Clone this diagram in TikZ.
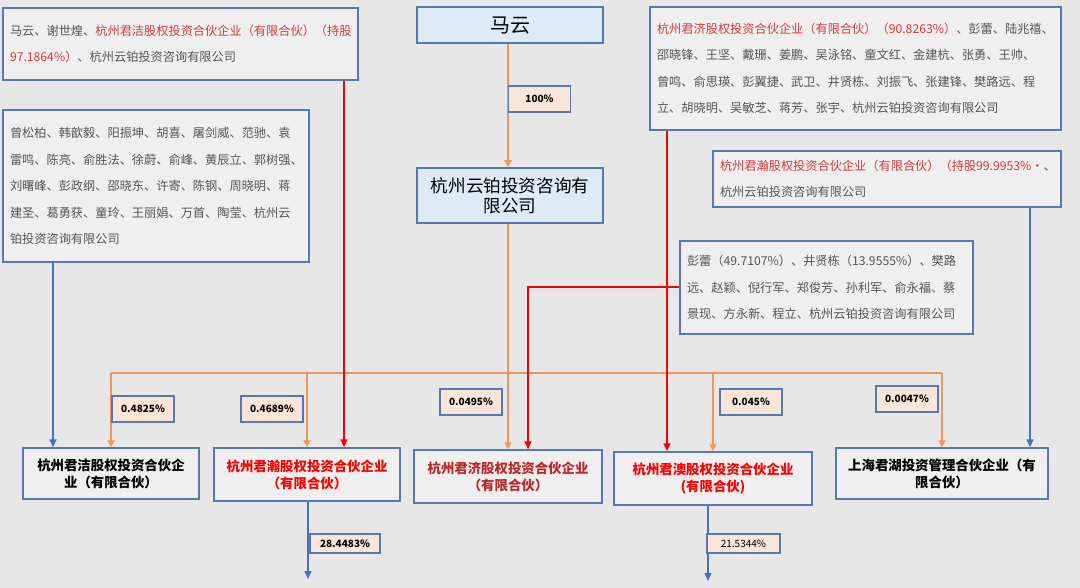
\documentclass[tikz,border=0pt]{standalone}
\usepackage{fontspec}
\setmainfont{Noto Sans CJK SC}
\usepackage{xcolor}
\usetikzlibrary{arrows.meta}

\definecolor{bgcol}{RGB}{231,231,231}
\definecolor{boxfill}{RGB}{239,239,239}
\definecolor{boxline}{RGB}{86,120,184}
\definecolor{headfill}{RGB}{222,234,246}
\definecolor{pctfill}{RGB}{251,229,214}
\definecolor{orangeln}{RGB}{242,150,88}
\definecolor{blueln}{RGB}{68,114,196}
\definecolor{redln}{RGB}{255,0,0}
\definecolor{redtxt}{RGB}{214,58,58}
\definecolor{darkred}{RGB}{190,40,40}
\definecolor{graytxt}{RGB}{85,85,85}

\tikzset{
  listbox/.style={draw=boxline, fill=boxfill, line width=1.5pt, inner sep=0pt,
    align=left, text=graytxt, font=\fontsize{12.2}{26.5}\selectfont},
  headbox/.style={draw=boxline, fill=headfill, line width=1.5pt, inner sep=0pt, align=center},
  firmbox/.style={draw=boxline, fill=boxfill, line width=1.5pt, inner sep=0pt, align=center,
    font=\fontsize{13.4}{17}\selectfont\bfseries},
  pct/.style={draw=boxline, fill=pctfill, line width=1.6pt, inner sep=0pt,
    minimum width=62pt, minimum height=26pt, font=\fontsize{10}{12}\selectfont\bfseries},
  oline/.style={draw=orangeln, line width=1.8pt},
  oarr/.style={oline, -{Triangle[length=7pt,width=7pt]}},
  barr/.style={draw=blueln, line width=1.8pt, -{Triangle[length=8pt,width=7pt]}},
  rarr/.style={draw=redln, line width=2pt, -{Triangle[length=8pt,width=7pt]}},
}

\begin{document}
\begin{tikzpicture}[x=1pt, y=-1pt]
  \fill[bgcol] (0,0) rectangle (1080,588);
  \useasboundingbox (0,0) rectangle (1080,588);

  % holder lists
  \node[listbox, minimum width=355pt, minimum height=72pt, text width=341pt]
    (listA) at (180.5,44) {马云、谢世煌、\textcolor{redtxt}{杭州君洁股权投资合伙企业（有限合伙）（持股}\\
    \textcolor{redtxt}{97.1864\%）}、杭州云铂投资咨询有限公司};
  \node[listbox, minimum width=306pt, minimum height=152pt, text width=292pt]
    (listB) at (156,186) {曾松柏、韩歆毅、阳振坤、胡喜、屠剑威、范驰、袁\\
    雷鸣、陈亮、俞胜法、徐蔚、俞峰、黄辰立、郭树强、\\
    刘曙峰、彭政纲、邵晓东、许寄、陈钢、周晓明、蒋\\
    建圣、葛勇获、童玲、王丽娟、万首、陶莹、杭州云\\
    铂投资咨询有限公司};
  \node[listbox, minimum width=411pt, minimum height=123pt, text width=397pt]
    (listC) at (855.5,68.5) {\textcolor{redtxt}{杭州君济股权投资合伙企业（有限合伙）（90.8263\%）}、彭蕾、陆兆禧、\\
    邵晓锋、王坚、戴珊、姜鹏、吴泳铭、童文红、金建杭、张勇、王帅、\\
    曾鸣、俞思瑛、彭翼捷、武卫、井贤栋、刘振飞、张建锋、樊路远、程\\
    立、胡晓明、吴敏芝、蒋芳、张宇、杭州云铂投资咨询有限公司};
  \node[listbox, minimum width=348pt, minimum height=56pt, text width=334pt]
    (listD) at (887,179) {\textcolor{redtxt}{杭州君瀚股权投资合伙企业（有限合伙）（持股99.9953\%·}、\\
    杭州云铂投资咨询有限公司};
  \node[listbox, minimum width=293pt, minimum height=93pt, text width=279pt]
    (listE) at (826.5,287.5) {彭蕾（49.7107\%）、井贤栋（13.9555\%）、樊路\\
    远、赵颖、倪行军、郑俊芳、孙利军、俞永福、蔡\\
    景现、方永新、程立、杭州云铂投资咨询有限公司};

  % top holders
  \node[headbox, minimum width=186pt, minimum height=36pt,
        font=\fontsize{20}{22}\selectfont] (ma) at (510,25) {马云};
  \node[headbox, minimum width=186pt, minimum height=55pt,
        font=\fontsize{17.6}{19.5}\selectfont] (yunbo) at (510,195.5) {杭州云铂投资咨询有\\限公司};

  % partnerships
  \node[firmbox, minimum width=176pt, minimum height=51pt] (jiejie) at (111,473.5)
    {杭州君洁股权投资合伙企\\业（有限合伙）};
  \node[firmbox, minimum width=186pt, minimum height=53pt, text=redln] (junhan) at (307,474.5)
    {杭州君瀚股权投资合伙企业\\（有限合伙）};
  \node[firmbox, minimum width=188pt, minimum height=53pt, text=darkred] (junji) at (508,476.5)
    {杭州君济股权投资合伙企业\\（有限合伙）};
  \node[firmbox, minimum width=198pt, minimum height=53pt, text=redln] (junao) at (713,478.5)
    {杭州君澳股权投资合伙企业\\(有限合伙)};
  \node[firmbox, minimum width=212pt, minimum height=51pt] (junhu) at (942,473.5)
    {上海君湖投资管理合伙企业（有\\限合伙）};

  % Ma Yun -> Yunbo
  \draw[oarr] (ma.south -| 508,0) -- (yunbo.north -| 508,0);
  \node[pct] (p100) at (539.5,99) {100\%};

  % Yunbo bus
  \coordinate (bus) at (508,373);
  \draw[oline] (yunbo.south -| bus) -- (bus);
  \draw[oline] (jiejie.north |- bus) -- (junhu.north |- bus);
  \foreach \firm in {jiejie,junhan,junji,junao,junhu}
    \draw[oarr] (\firm.north |- bus) -- (\firm.north);
  \node[pct] (p1) at (143,409) {0.4825\%};
  \node[pct] (p2) at (272,409) {0.4689\%};
  \node[pct] (p3) at (471,402) {0.0495\%};
  \node[pct] (p4) at (751,402) {0.045\%};
  \node[pct] (p5) at (907,399) {0.0047\%};

  % list holders -> partnerships
  \coordinate (xB) at (53,0);
  \coordinate (xA) at (344,0);
  \coordinate (xE) at (528,0);
  \coordinate (xC) at (667,0);
  \coordinate (xD) at (1030,0);
  \draw[barr] (listB.south -| xB) -- (jiejie.north -| xB);
  \draw[rarr] (listA.south -| xA) -- (junhan.north -| xA);
  \draw[rarr] (listE.west) -| (junji.north -| xE);
  \draw[rarr] (listC.south -| xC) -- (junao.north -| xC);
  \draw[barr] (listD.south -| xD) -- (junhu.north -| xD);

  % stakes held below
  \coordinate (outH) at (308,579);
  \coordinate (outA) at (708,581);
  \draw[barr, line width=1.3pt] (junhan.south -| outH) -- (outH);
  \draw[barr, line width=1.3pt] (junao.south -| outA) -- (outA);
  \node[pct] (p6) at (345,543.5) [minimum width=70pt, minimum height=19pt] {28.4483\%};
  \node[pct, font=\fontsize{10}{12}\selectfont] (p7) at (743.5,543.5)
    [minimum width=73pt, minimum height=19pt] {21.5344\%};
\end{tikzpicture}
\end{document}
